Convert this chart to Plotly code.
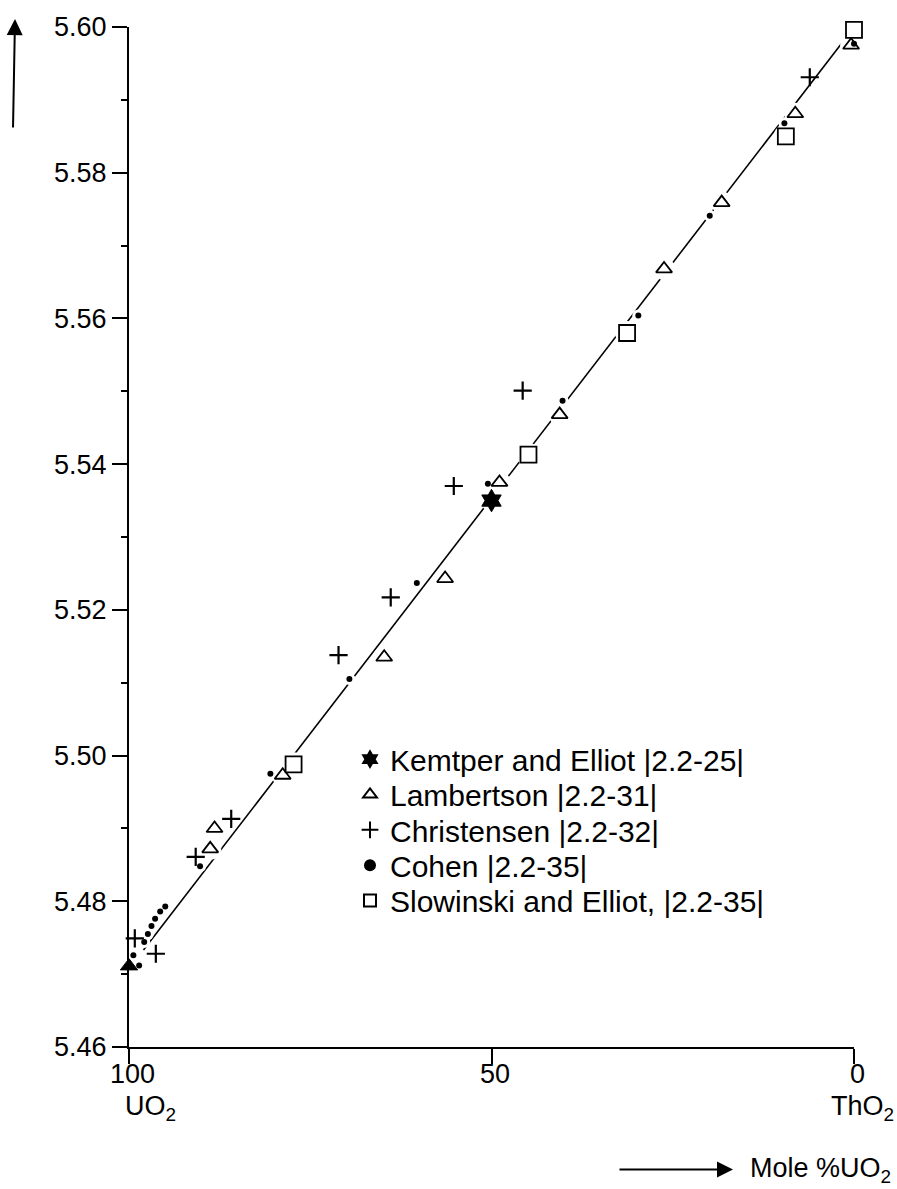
import plotly.graph_objects as go

# ---- data ----
kempter_x = [50.0]
kempter_y = [5.5350]

uo2_x = [100.0]
uo2_y = [5.4711]

lamb_x = [0.4, 8.1, 18.25, 26.2, 40.6, 48.9, 56.4, 64.8, 78.8, 88.2, 88.8]
lamb_y = [5.5975, 5.5881, 5.5759, 5.5668, 5.5468, 5.5375, 5.5243, 5.5135, 5.4973, 5.4900, 5.4872]

chris_x = [6.1, 45.7, 55.2, 63.9, 71.1, 85.9, 90.8, 99.2, 96.3]
chris_y = [5.5931, 5.5501, 5.5370, 5.5217, 5.5138, 5.4913, 5.4861, 5.4749, 5.4728]

cohen_x = [0.0, 9.6, 19.9, 29.75, 40.2, 50.5, 60.3, 69.6, 80.5, 90.2,
           95.0, 95.7, 96.4, 96.9, 97.4, 97.9, 99.4, 98.6]
cohen_y = [5.5977, 5.5868, 5.5741, 5.5604, 5.5487, 5.5373, 5.5237, 5.5105, 5.4975, 5.4848,
           5.4793, 5.4786, 5.4776, 5.4766, 5.4755, 5.4744, 5.4726, 5.4712]

slow_x = [0.0, 9.4, 31.3, 44.9, 77.3]
slow_y = [5.5996, 5.5850, 5.5580, 5.5413, 5.4988]

fit_x = [98.0, 0.5]
fit_y = [5.4733, 5.5993]

y_ticks = [5.46, 5.48, 5.50, 5.52, 5.54, 5.56, 5.58, 5.60]
x_ticks = [100, 50, 0]
x_ticklabels = ["100", "50", "0"]
x_endlabels = ["UO<sub>2</sub>", "", "ThO<sub>2</sub>"]

names = ["Kemtper and Elliot |2.2-25|", "Lambertson |2.2-31|", "Christensen |2.2-32|",
         "Cohen |2.2-35|", "Slowinski and Elliot, |2.2-35|"]

FONT = "Liberation Sans, Arial, Helvetica, sans-serif"

fig = go.Figure()

# fit line
fig.add_trace(go.Scatter(x=fit_x, y=fit_y, mode="lines", line=dict(color="black", width=1.6),
                         showlegend=False, hoverinfo="skip"))

# white halos that interrupt the line around the markers
for hx, hy, hs in [(lamb_x, lamb_y, 22), (slow_x, slow_y, 24), (cohen_x, cohen_y, 12),
                   (kempter_x, kempter_y, 22)]:
    fig.add_trace(go.Scatter(x=hx, y=hy, mode="markers", showlegend=False, hoverinfo="skip",
                             cliponaxis=False,
                             marker=dict(symbol="circle", size=hs, color="white", line=dict(width=0))))

fig.add_trace(go.Scatter(x=kempter_x, y=kempter_y, mode="markers", name=names[0], legend="legend",
                         cliponaxis=False,
                         marker=dict(symbol="hexagram", size=17, color="black",
                                     line=dict(color="black", width=1))))
fig.add_trace(go.Scatter(x=lamb_x, y=lamb_y, mode="markers", name=names[1], legend="legend2",
                         cliponaxis=False,
                         marker=dict(symbol="triangle-up", size=14, color="white",
                                     line=dict(color="black", width=1.8))))
fig.add_trace(go.Scatter(x=chris_x, y=chris_y, mode="markers", name=names[2], legend="legend3",
                         cliponaxis=False,
                         marker=dict(symbol="cross-thin", size=13, color="black",
                                     line=dict(color="black", width=2.2))))
fig.add_trace(go.Scatter(x=cohen_x, y=cohen_y, mode="markers", name=names[3], legend="legend4",
                         cliponaxis=False,
                         marker=dict(symbol="circle", size=6, color="black", line=dict(width=0))))
fig.add_trace(go.Scatter(x=slow_x, y=slow_y, mode="markers", name=names[4], legend="legend5",
                         cliponaxis=False,
                         marker=dict(symbol="square", size=16, color="white",
                                     line=dict(color="black", width=1.8))))
fig.add_trace(go.Scatter(x=uo2_x, y=uo2_y, mode="markers", showlegend=False, cliponaxis=False,
                         marker=dict(symbol="triangle-up", size=15, color="black",
                                     line=dict(color="black", width=1))))

L, R, T, B = 129, 43, 23, 142
W, H = 897, 1189
pw, ph = W - L - R, H - T - B


def px_x(p):
    return (p - L) / pw


def px_y(p):
    return 1 - (p - T) / ph


legend_common = dict(x=px_x(350), xanchor="left", yanchor="middle", bgcolor="rgba(0,0,0,0)",
                     font=dict(family=FONT, size=30, color="black"), itemsizing="constant",
                     borderwidth=0)
row_centers = [758, 793.5, 829, 864.5, 900]
layout_legends = {}
for i, rc in enumerate(row_centers):
    key = "legend" if i == 0 else f"legend{i + 1}"
    layout_legends[key] = dict(legend_common, y=px_y(rc))

annotations = [
    # vertical arrow (y axis direction)
    dict(xref="paper", yref="paper", x=px_x(15), y=px_y(15), ax=-2, ay=110,
         text="", showarrow=True, arrowhead=2, arrowsize=1.6, arrowwidth=2, arrowcolor="black"),
    # horizontal arrow before x label
    dict(xref="paper", yref="paper", x=px_x(733), y=px_y(1170), ax=-115, ay=0,
         text="", showarrow=True, arrowhead=2, arrowsize=1.6, arrowwidth=2, arrowcolor="black"),
    dict(xref="paper", yref="paper", x=px_x(893), y=px_y(1170), xanchor="right", yanchor="middle",
         text="Mole %UO<sub>2</sub>", showarrow=False,
         font=dict(family=FONT, size=27, color="black")),
]
# x tick labels (numbers + end-member names)
for xv, lab, end in zip(x_ticks, x_ticklabels, x_endlabels):
    annotations.append(dict(xref="x", yref="paper", x=xv, y=px_y(1074), text=lab, showarrow=False,
                            xanchor="center", yanchor="middle", xshift=3,
                            font=dict(family=FONT, size=27, color="black")))
    if end:
        annotations.append(dict(xref="x", yref="paper", x=xv, y=px_y(1108), text=end,
                                showarrow=False, xanchor="left", yanchor="middle",
                                xshift=-6 if xv == 100 else -25,
                                font=dict(family=FONT, size=27, color="black")))

fig.update_layout(
    width=W, height=H, autosize=False,
    margin=dict(l=L, r=R, t=T, b=B, pad=0),
    plot_bgcolor="white", paper_bgcolor="white",
    font=dict(family=FONT, size=27, color="black"),
    showlegend=True,
    xaxis=dict(range=[100, 0], tickmode="array", tickvals=x_ticks, showticklabels=False,
               showgrid=False, zeroline=False, showline=True, linecolor="black", linewidth=2,
               ticks="outside", ticklen=15, tickwidth=2, tickcolor="black"),
    yaxis=dict(range=[5.46, 5.60], tickmode="array", tickvals=y_ticks,
               ticktext=[f"{v:.2f}" for v in y_ticks],
               showgrid=False, zeroline=False, showline=True, linecolor="black", linewidth=2,
               ticks="outside", ticklen=15, tickwidth=2, tickcolor="black",
               minor=dict(dtick=0.01, ticks="outside", ticklen=6, tickwidth=1.5, tickcolor="black",
                          showgrid=False),
               tickfont=dict(family=FONT, size=27, color="black")),
    **layout_legends,
    annotations=annotations,
)

fig.write_html("out.html")
